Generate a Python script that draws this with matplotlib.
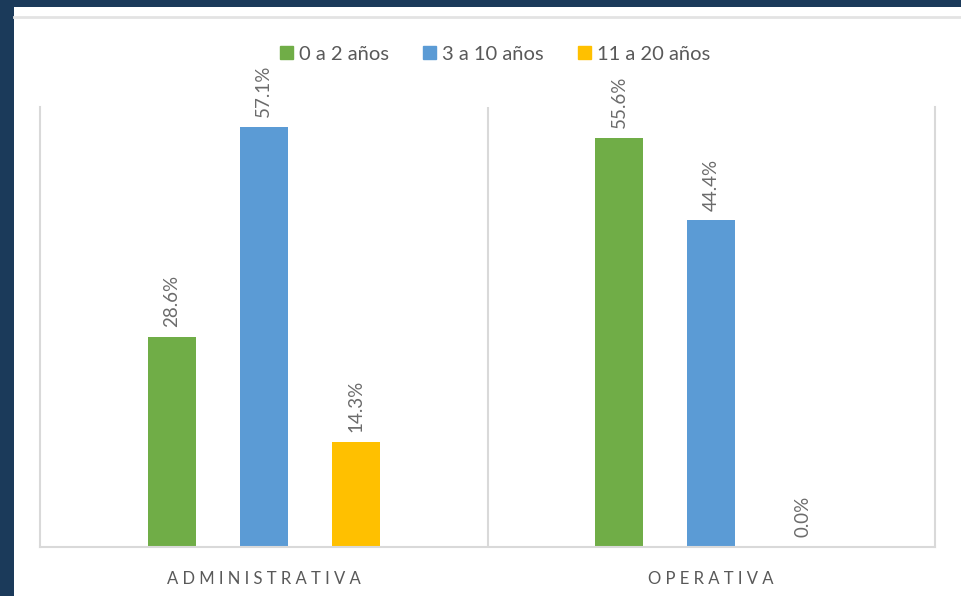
import matplotlib.pyplot as plt
import matplotlib.patches as mpatches
from matplotlib.lines import Line2D
import numpy as np

plt.rcParams['font.family'] = ['Lato', 'DejaVu Sans']

categorias = ['ADMINISTRATIVA', 'OPERATIVA']
series = ['0 a 2 años', '3 a 10 años', '11 a 20 años']
valores = [
    [28.6, 55.6],
    [57.1, 44.4],
    [14.3, 0.0],
]
colores = ['#70ad47', '#5b9bd5', '#ffc000']

fig = plt.figure(figsize=(9.61, 5.96), dpi=100, facecolor='#1b3a5a')

# panel blanco
fig.patches.append(mpatches.Rectangle((14 / 961, 0), 1 - 14 / 961, 1 - 7 / 596,
                                      transform=fig.transFigure, facecolor='white',
                                      edgecolor='none', zorder=-10))
fig.lines.append(Line2D([14 / 961, 1], [1 - 17 / 596, 1 - 17 / 596],
                        transform=fig.transFigure, color='#e3e3e3', lw=2, zorder=-9))

ax = fig.add_axes([40 / 961, 49 / 596, 895 / 961, 440 / 596])
ax.set_facecolor('none')
ax.set_zorder(1)

x = np.arange(len(categorias))
ancho = 48 / 448
sep = 92 / 448
for i, (serie, vals, col) in enumerate(zip(series, valores, colores)):
    pos = x + (i - 1) * sep
    ax.bar(pos, vals, width=ancho, color=col, label=serie, zorder=2)
    for p, v in zip(pos, vals):
        ax.annotate(f'{v:.1f}%', (p, v), xytext=(0, 7), textcoords='offset points',
                    rotation=90, ha='center', va='bottom', color='#6b6b6b', fontsize=13.5)

ax.set_xlim(-0.5, 1.5)
ax.set_ylim(0, 59.8)
ax.set_yticks([])
ax.set_xticks(x)
ax.set_xticklabels([' '.join(c) for c in categorias], color='#595959', fontsize=12)
ax.tick_params(axis='x', length=0, pad=17)
for s in ['left', 'right', 'bottom']:
    ax.spines[s].set_color('#d9d9d9')
    ax.spines[s].set_linewidth(1.5)
ax.spines['top'].set_visible(False)
ax.axvline(0.5, color='#d9d9d9', lw=1.5, zorder=1)

handles = [mpatches.Patch(color=c) for c in colores]
leg = fig.legend(handles, series, loc='center', bbox_to_anchor=(495 / 961, 1 - 54 / 596), ncol=3,
                 frameon=False, fontsize=14.5, handlelength=0.65, handleheight=0.65,
                 handletextpad=0.3, columnspacing=1.7, labelcolor='#595959')
leg.set_zorder(2)

fig.savefig('out.png', dpi=100, facecolor=fig.get_facecolor())
